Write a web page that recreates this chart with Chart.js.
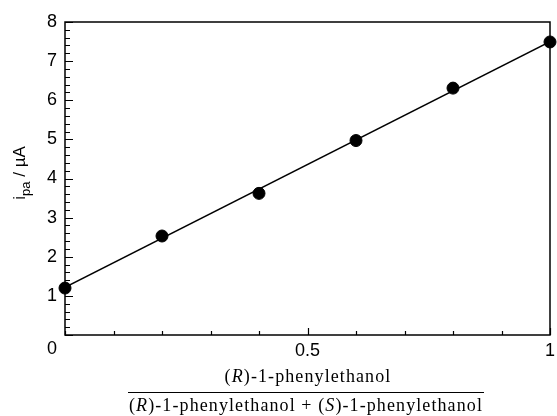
<!DOCTYPE html>
<html>
<head>
    <meta charset="UTF-8">
    <title>Peak current vs enantiomeric fraction</title>
    <script src="https://cdn.jsdelivr.net/npm/chart.js"></script>
    <style>
        html, body { margin: 0; padding: 0; background: #fff; }
    </style>
</head>
<body>
    <canvas id="chart" width="557" height="416"></canvas>

    <script>
        // data
        const fractionR = [0, 0.2, 0.4, 0.6, 0.8, 1.0];
        const peakCurrent = [1.2, 2.53, 3.62, 4.97, 6.31, 7.49];
        const fitX = [0, 1];
        const fitY = [1.22, 7.5];
        const xTickLabels = [0.5, 1];
        const yTickLabels = [1, 2, 3, 4, 5, 6, 7, 8];

        const tickFont = { family: "'Liberation Sans', Arial, sans-serif", size: 18 };

        function isLabel(v, list) {
            return list.some(l => Math.abs(v - l) < 1e-6);
        }

        // inward ticks, frame and the hand-set titles
        const decorations = {
            id: 'decorations',
            afterDraw(chart) {
                const ctx = chart.ctx;
                const a = chart.chartArea;
                const xs = chart.scales.x, ys = chart.scales.y;
                ctx.save();
                ctx.strokeStyle = '#000';
                ctx.lineWidth = 1.5;
                ctx.strokeRect(a.left, a.top, a.right - a.left, a.bottom - a.top);

                ctx.lineWidth = 1.2;
                ctx.beginPath();
                ys.ticks.forEach(t => {
                    const y = Math.round(ys.getPixelForValue(t.value)) + 0.5;
                    const len = (isLabel(t.value, yTickLabels) || Math.abs(t.value) < 1e-6) ? 8 : 5;
                    ctx.moveTo(a.left, y);
                    ctx.lineTo(a.left + len, y);
                });
                xs.ticks.forEach(t => {
                    const x = Math.round(xs.getPixelForValue(t.value)) + 0.5;
                    const len = isLabel(t.value, xTickLabels) ? 7 : 4;
                    ctx.moveTo(x, a.bottom);
                    ctx.lineTo(x, a.bottom - len);
                });
                ctx.stroke();

                // shared origin label
                ctx.fillStyle = '#000';
                ctx.font = "18px 'Liberation Sans', Arial, sans-serif";
                ctx.textAlign = 'center';
                ctx.textBaseline = 'middle';
                ctx.fillText('0', 52, 349);

                // y title: i_pa / µA
                ctx.save();
                ctx.translate(25, 173);
                ctx.rotate(-Math.PI / 2);
                ctx.textBaseline = 'alphabetic';
                ctx.textAlign = 'left';
                const big = "17px 'Liberation Sans', Arial, sans-serif";
                const small = "13px 'Liberation Sans', Arial, sans-serif";
                ctx.font = big;
                const w1 = ctx.measureText('i').width;
                const w3 = ctx.measureText(' / \u00b5A').width;
                ctx.font = small;
                const w2 = ctx.measureText('pa').width;
                let x0 = -(w1 + w2 + w3) / 2;
                ctx.font = big;
                ctx.fillText('i', x0, 0);
                ctx.font = small;
                ctx.fillText('pa', x0 + w1, 5);
                ctx.font = big;
                ctx.fillText(' / \u00b5A', x0 + w1 + w2, 0);
                ctx.restore();

                // x title as a fraction
                const serif = "'Liberation Serif', 'Times New Roman', serif";
                function partsWidth(parts) {
                    let total = 0;
                    parts.forEach(p => {
                        ctx.font = (p[1] ? 'italic ' : '') + '18px ' + serif;
                        total += ctx.measureText(p[0]).width;
                    });
                    return total;
                }
                const num = [['(', false], ['R', true], [')-1-phenylethanol', false]];
                const den = [['(', false], ['R', true], [')-1-phenylethanol + (', false],
                             ['S', true], [')-1-phenylethanol', false]];
                const denChars = den.reduce((n, p) => n + p[0].length, 0);
                const spacing = (354 - partsWidth(den)) / denChars;
                function drawParts(parts, cx, cy) {
                    const n = parts.reduce((k, p) => k + p[0].length, 0);
                    const total = partsWidth(parts) + spacing * n;
                    let x = cx - total / 2;
                    ctx.textAlign = 'left';
                    ctx.textBaseline = 'middle';
                    parts.forEach(p => {
                        ctx.font = (p[1] ? 'italic ' : '') + '18px ' + serif;
                        for (const ch of p[0]) {
                            ctx.fillText(ch, x, cy);
                            x += ctx.measureText(ch).width + spacing;
                        }
                    });
                }
                drawParts(num, 308, 377);
                drawParts(den, 306, 406);
                ctx.lineWidth = 1.2;
                ctx.beginPath();
                ctx.moveTo(128, 392.5);
                ctx.lineTo(484, 392.5);
                ctx.stroke();
                ctx.restore();
            }
        };

        const ctx = document.getElementById('chart').getContext('2d');
        new Chart(ctx, {
            type: 'scatter',
            data: {
                datasets: [{
                    label: 'fit',
                    type: 'line',
                    data: fitX.map((x, i) => ({ x: x, y: fitY[i] })),
                    borderColor: '#000',
                    borderWidth: 1.5,
                    pointRadius: 0,
                    fill: false
                }, {
                    label: 'ipa',
                    data: fractionR.map((x, i) => ({ x: x, y: peakCurrent[i] })),
                    backgroundColor: '#000',
                    borderColor: '#000',
                    pointRadius: 6,
                    clip: false
                }]
            },
            options: {
                responsive: false,
                animation: false,
                devicePixelRatio: 1,
                layout: { padding: { left: 0, right: 3, top: 22, bottom: 0 } },
                plugins: {
                    legend: { display: false },
                    tooltip: { enabled: false }
                },
                scales: {
                    x: {
                        type: 'linear',
                        min: 0,
                        max: 1,
                        grid: { display: false, drawTicks: false },
                        border: { display: false },
                        ticks: {
                            stepSize: 0.1,
                            autoSkip: false,
                            maxRotation: 0,
                            padding: 5,
                            color: '#000',
                            font: tickFont,
                            callback: v => isLabel(v, xTickLabels) ? String(Math.round(v * 10) / 10) : ''
                        },
                        afterFit(s) {
                            s.height = 81;
                            s.paddingLeft = 0;
                            s.paddingRight = 0;
                        }
                    },
                    y: {
                        min: 0,
                        max: 8,
                        grid: { display: false, drawTicks: false },
                        border: { display: false },
                        ticks: {
                            stepSize: 0.2,
                            autoSkip: false,
                            padding: 8,
                            color: '#000',
                            font: tickFont,
                            callback: v => isLabel(v, yTickLabels) ? String(Math.round(v)) : ''
                        },
                        afterFit(s) {
                            s.width = 65;
                            s.paddingTop = 0;
                            s.paddingBottom = 0;
                        }
                    }
                }
            },
            plugins: [decorations]
        });
    </script>
</body>
</html>
